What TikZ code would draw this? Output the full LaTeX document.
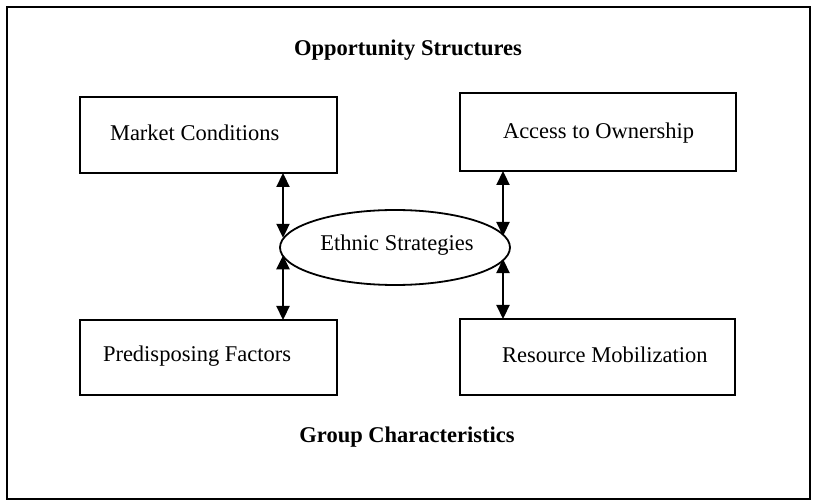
\documentclass[tikz,border=0pt]{standalone}
\usepackage{fontspec}
\setmainfont{Liberation Serif}
\usetikzlibrary{arrows.meta,positioning,shapes.geometric}
\begin{document}
\begin{tikzpicture}[x=1pt,y=-1pt,
  every node/.style={font=\fontsize{22.5}{27}\selectfont, inner sep=0pt, outer sep=0pt},
  box/.style={draw, line width=1.8pt, rectangle},
  oval/.style={draw, line width=1.8pt, ellipse, minimum width=230pt, minimum height=75pt},
  heading/.style={font=\fontsize{22.5}{27}\selectfont\bfseries},
  link/.style={line width=2.2pt, {Triangle[length=14pt,width=13pt]}-{Triangle[length=14pt,width=13pt]}}]
  \useasboundingbox (0,0) rectangle (813,502);
  % outer frame
  \draw[line width=1.8pt] (7,7) rectangle (810,499);

  % headings
  \node[heading] (opp) at (408,50) {Opportunity Structures};
  \node[heading] (grp) at (407,437) {Group Characteristics};

  % the four boxes
  \node[box, minimum width=257pt, minimum height=76pt] (mc) at (208.5,135) {};
  \node[box, minimum width=276pt, minimum height=78pt] (ao) at (598,132) {};
  \node[box, minimum width=257pt, minimum height=75pt] (pf) at (208.5,357.5) {};
  \node[box, minimum width=275pt, minimum height=76pt] (rm) at (597.5,357) {};

  \node[right=30pt of mc.west, yshift=2pt] (mct) {Market Conditions};
  \node[right=43pt of ao.west, yshift=-1pt] (aot) {Access to Ownership};
  \node[right=23pt of pf.west, yshift=1pt] (pft) {Predisposing Factors};
  \node[right=42pt of rm.west, yshift=2pt] (rmt) {Resource Mobilization};

  % central ellipse
  \node[oval] (es) at (395,247.5) {};
  \node (est) at (397,245) {Ethnic Strategies};

  % two-way links, kept vertical
  \coordinate (xl) at (283,0);
  \coordinate (xr) at (503,0);
  \draw[link] (mc.south -| xl) -- (es.175.7 -| xl);
  \draw[link] (es.184.3 -| xl) -- (pf.north -| xl);
  \draw[link] (ao.south -| xr) -- (es.6.7 -| xr);
  \draw[link] (es.-6.7 -| xr) -- (rm.north -| xr);
\end{tikzpicture}
\end{document}
